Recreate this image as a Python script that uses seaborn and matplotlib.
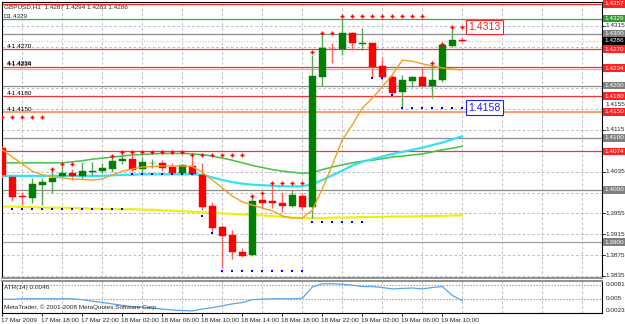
import numpy as np
import pandas as pd
import seaborn as sns
import matplotlib.pyplot as plt

nan = np.nan

# ---- data (GBPUSD, H1, bar 0 = 17 Mar 14:00) ----
bars = list(range(47))
opens = [1.4080, 1.4025, 1.3988, 1.3984, 1.4009, 1.4015, 1.4027, 1.4032, 1.4027, 1.4034,
         1.4036, 1.4040, 1.4055, 1.4059, 1.4040, 1.4051, 1.4052, 1.4044, 1.4032, 1.4046,
         1.4029, 1.3969, 1.3929, 1.3913, 1.3881, 1.3875, 1.3981, 1.3979, 1.3975, 1.3969,
         1.3988, 1.3967, 1.4217, 1.4271, 1.4270, 1.4301, 1.4281, 1.4282, 1.4238, 1.4217,
         1.4188, 1.4209, 1.4217, 1.4199, 1.4211, 1.4276, 1.4287]
highs = [1.4084, 1.4027, 1.3996, 1.4023, 1.4023, 1.4040, 1.4046, 1.4040, 1.4054, 1.4054,
         1.4052, 1.4067, 1.4071, 1.4071, 1.4063, 1.4059, 1.4057, 1.4052, 1.4050, 1.4063,
         1.4052, 1.3977, 1.3933, 1.3923, 1.3888, 1.3990, 1.3990, 1.4013, 1.3996, 1.4000,
         1.3994, 1.4259, 1.4297, 1.4282, 1.4334, 1.4303, 1.4311, 1.4282, 1.4255, 1.4221,
         1.4221, 1.4219, 1.4234, 1.4242, 1.4282, 1.4313, 1.4294]
lows = [1.4023, 1.3979, 1.3971, 1.3975, 1.3971, 1.3994, 1.4023, 1.4019, 1.4021, 1.4029,
        1.4032, 1.4034, 1.4050, 1.4034, 1.4032, 1.4042, 1.4036, 1.4031, 1.4031, 1.4029,
        1.3961, 1.3917, 1.3850, 1.3867, 1.3871, 1.3873, 1.3965, 1.3965, 1.3958, 1.3967,
        1.3961, 1.3946, 1.4199, 1.4244, 1.4259, 1.4269, 1.4269, 1.4215, 1.4211, 1.4178,
        1.4159, 1.4198, 1.4199, 1.4176, 1.4207, 1.4274, 1.4283]
closes = [1.4029, 1.3986, 1.3986, 1.4011, 1.4015, 1.4023, 1.4032, 1.4027, 1.4036, 1.4036,
          1.4042, 1.4055, 1.4059, 1.4038, 1.4054, 1.4052, 1.4042, 1.4032, 1.4048, 1.4031,
          1.3967, 1.3927, 1.3912, 1.3881, 1.3873, 1.3979, 1.3975, 1.3975, 1.3969, 1.3990,
          1.3967, 1.4219, 1.4272, 1.4270, 1.4301, 1.4282, 1.4282, 1.4236, 1.4217, 1.4186,
          1.4211, 1.4217, 1.4199, 1.4211, 1.4278, 1.4287, 1.4286]

ma_orange = [1.4077, 1.4063, 1.4050, 1.4036, 1.4029, 1.4025, 1.4023, 1.4021, 1.4020, 1.4019,
             1.4021, 1.4029, 1.4036, 1.4040, 1.4044, 1.4045, 1.4046, 1.4046, 1.4046, 1.4045,
             1.4034, 1.4019, 1.4004, 1.3988, 1.3977, 1.3971, 1.3965, 1.3960, 1.3950, 1.3946,
             1.3946, 1.3961, 1.4002, 1.4048, 1.4096, 1.4125, 1.4157, 1.4176, 1.4198, 1.4221,
             1.4249, 1.4247, 1.4242, 1.4238, 1.4234, 1.4232, 1.4230]
ma_green = [1.4052, 1.4052, 1.4052, 1.4052, 1.4052, 1.4052, 1.4052, 1.4054, 1.4056, 1.4059,
            1.4061, 1.4063, 1.4065, 1.4067, 1.4068, 1.4069, 1.4070, 1.4070, 1.4070, 1.4069,
            1.4068, 1.4065, 1.4061, 1.4057, 1.4052, 1.4047, 1.4043, 1.4039, 1.4036, 1.4034,
            1.4032, 1.4033, 1.4039, 1.4044, 1.4048, 1.4052, 1.4055, 1.4057, 1.4060, 1.4063,
            1.4065, 1.4067, 1.4069, 1.4073, 1.4077, 1.4080, 1.4084]
ma_cyan = [1.4027, 1.4027, 1.4027, 1.4027, 1.4027, 1.4027, 1.4027, 1.4027, 1.4027, 1.4027,
           1.4027, 1.4028, 1.4029, 1.4029, 1.4030, 1.4030, 1.4030, 1.4030, 1.4030, 1.4030,
           1.4029, 1.4024, 1.4019, 1.4015, 1.4012, 1.4010, 1.4009, 1.4008, 1.4007, 1.4007,
           1.4007, 1.4011, 1.4019, 1.4028, 1.4037, 1.4047, 1.4054, 1.4059, 1.4064, 1.4069,
           1.4073, 1.4077, 1.4081, 1.4086, 1.4091, 1.4097, 1.4103]
ma_yellow = [1.3968, 1.3968, 1.3967, 1.3967, 1.3966, 1.3966, 1.3966, 1.3965, 1.3965, 1.3964,
             1.3964, 1.3963, 1.3963, 1.3963, 1.3962, 1.3962, 1.3961, 1.3960, 1.3959, 1.3958,
             1.3957, 1.3956, 1.3955, 1.3954, 1.3953, 1.3952, 1.3951, 1.3950, 1.3948, 1.3947,
             1.3946, 1.3946, 1.3946, 1.3947, 1.3947, 1.3947, 1.3948, 1.3948, 1.3948, 1.3949,
             1.3949, 1.3949, 1.3950, 1.3950, 1.3950, 1.3951, 1.3951]

res_dots = [1.4139, 1.4139, 1.4139, 1.4139, 1.4139, 1.4040, 1.4049, 1.4049, nan, nan,
            nan, 1.4066, 1.4073, 1.4073, 1.4073, 1.4073, 1.4073, 1.4073, 1.4073, 1.4067,
            1.4067, 1.4067, 1.4067, 1.4067, 1.4067, 1.3989, 1.3995, 1.4013, 1.4013, 1.4013,
            1.4013, 1.4264, 1.4301, 1.4301, 1.4334, 1.4334, 1.4334, 1.4334, 1.4334, 1.4334,
            1.4334, 1.4334, 1.4334, 1.4243, 1.4281, 1.4313, 1.4313]
sup_dots = [1.4016, 1.3964, 1.3964, 1.3964, 1.3964, 1.3964, 1.3964, 1.3964, 1.3964, 1.3964,
            1.3964, 1.3964, 1.3964, 1.4031, 1.4031, 1.4031, 1.4031, 1.4031, 1.4031, 1.4031,
            1.3949, 1.3918, 1.3845, 1.3845, 1.3845, 1.3845, 1.3845, 1.3845, 1.3845, 1.3845,
            1.3845, 1.3938, 1.3938, 1.3938, 1.3938, 1.3938, 1.3938, 1.4214, 1.4214, 1.4182,
            1.4158, 1.4158, 1.4158, 1.4158, 1.4158, 1.4158, 1.4158]

atr = [0.0049, 0.0049, 0.0050, 0.0050, 0.0050, 0.0050, 0.0050, 0.0050, 0.0048, 0.0045,
       0.0042, 0.0039, 0.0036, 0.0033, 0.0032, 0.0030, 0.0028, 0.0026, 0.0025, 0.0024,
       0.0028, 0.0031, 0.0035, 0.0039, 0.0042, 0.0048, 0.0049, 0.0050, 0.0050, 0.0050,
       0.0051, 0.0075, 0.0082, 0.0082, 0.0081, 0.0079, 0.0076, 0.0076, 0.0074, 0.0071,
       0.0072, 0.0073, 0.0071, 0.0074, 0.0076, 0.0057, 0.0046]

time_labels = ["17 Mar 2009", "17 Mar 18:00", "17 Mar 22:00", "18 Mar 02:00",
               "18 Mar 06:00", "18 Mar 10:00", "18 Mar 14:00", "18 Mar 18:00",
               "18 Mar 22:00", "19 Mar 02:00", "19 Mar 06:00", "19 Mar 10:00"]
time_label_bars = [0, 4, 8, 12, 16, 20, 24, 28, 32, 36, 40, 44]
grid_bars = [2, 6, 10, 14, 18, 22, 26, 30, 34, 38, 42, 46, 50, 54, 58]
price_ticks = [1.4315, 1.4275, 1.4235, 1.4195, 1.4155, 1.4115, 1.4075,
               1.4035, 1.3995, 1.3955, 1.3915, 1.3875, 1.3835]
shown_ticks = [1.4315, 1.4155, 1.4115, 1.4035, 1.3955, 1.3915, 1.3875, 1.3835]

level_prices = [1.4357, 1.4329, 1.4300, 1.4270, 1.4236, 1.4233, 1.4200, 1.4180,
                1.4150, 1.4100, 1.4074, 1.4000, 1.3900]
level_colors = ['#ff2020', '#3cae3c', '#8c8c8c', '#ff3030', '#ff3030', '#ffa0a0', '#8c8c8c',
                '#ff3030', '#ff9f70', '#8c8c8c', '#ff3030', '#8c8c8c', '#a0a0a0']
box_prices = [1.4357, 1.4329, 1.4300, 1.4286, 1.4270, 1.4234, 1.4200, 1.4180,
              1.4150, 1.4100, 1.4074, 1.4000, 1.3900]
box_colors = ['#ff2020', '#2e9a2e', '#808080', '#000000', '#ff2020', '#ff2020', '#808080',
              '#ff2020', '#ff2020', '#808080', '#ff2020', '#808080', '#808080']
left_tags = ["4-1.4270", "4-1.4236", "4-1.4234", "4-1.4180", "4-1.4150"]
left_tag_prices = [1.4270, 1.4238, 1.4236, 1.4180, 1.4150]

atr_levels = [0.0080, 0.0050, 0.0020]
atr_tick_text = ["0.0081", "0.005", "0.0023"]
atr_tick_vals = [0.0081, 0.0050, 0.0024]

# ---- figure ----
sns.set_style("white")
plt.rcParams['font.family'] = ['Liberation Sans', 'DejaVu Sans']
FS = 4.6
W, H = 625, 324
fig = plt.figure(figsize=(W / 100, H / 100), dpi=100)


def px_axes(x0, y0, x1, y1):
    return fig.add_axes([x0 / W, 1 - y1 / H, (x1 - x0) / W, (y1 - y0) / H])


def fig_text(x, y, s, **kw):
    fig.text(x / W, 1 - y / H, s, **kw)


ax = px_axes(2, 2, 602, 278)
atr_ax = px_axes(2, 281, 602, 313)

for a in (ax, atr_ax):
    a.set_xlim(-0.03, 59.97)
    a.set_xticks([])
    a.set_yticks([])
    for sp in a.spines.values():
        sp.set_color('black')
        sp.set_linewidth(0.8)
    for b in grid_bars:
        a.axvline(b, color='#b8b8c4', ls=(0, (2.5, 2.5)), lw=0.7, zorder=0.5)
ax.spines['bottom'].set_color('#909090')
ax.spines['bottom'].set_linewidth(1.4)
atr_ax.spines['top'].set_color('#909090')
atr_ax.spines['top'].set_linewidth(1.4)
ax.set_ylim(1.38309, 1.43607)
atr_ax.set_ylim(0.00196, 0.00879)

for p in price_ticks:
    ax.axhline(p, color='#b8b8c4', ls=(0, (2.5, 2.5)), lw=0.7, zorder=0.5)

# horizontal levels
for p, c in zip(level_prices, level_colors):
    ax.axhline(p, color=c, lw=1.5 if c == '#ff9f70' else 0.9, zorder=1)
ax.axhline(1.4286, color='#c0c0c8', ls=(0, (1, 1.5)), lw=0.8, zorder=1)

for s, p in zip(left_tags, left_tag_prices):
    ax.text(0.5, p, s, fontsize=FS, color='black', ha='left', va='bottom', zorder=6)

# moving averages
sns.lineplot(x=bars, y=ma_yellow, ax=ax, color='#f0f000', lw=1.5, zorder=2)
sns.lineplot(x=bars, y=ma_green, ax=ax, color='#44c044', lw=1.1, zorder=2)
sns.lineplot(x=bars, y=ma_cyan, ax=ax, color='#30e4f4', lw=1.6, zorder=2)

# candles
df = pd.DataFrame({'bar': bars, 'open': opens, 'high': highs, 'low': lows, 'close': closes})
df['up'] = df['close'] >= df['open']
df['body'] = (df['close'] - df['open']).abs().clip(lower=0.00012)
df['base'] = df[['open', 'close']].min(axis=1)
for is_up, body_c, wick_c in [(True, '#008000', '#55a855'), (False, '#ff0000', '#ff6060')]:
    d = df[df['up'] == is_up]
    ax.vlines(d['bar'], d['low'], d['high'], colors=wick_c, lw=1.0, zorder=3)
    ax.bar(d['bar'], d['body'], bottom=d['base'], width=0.7, color=body_c,
           edgecolor=body_c, lw=0.3, zorder=4)

sns.lineplot(x=bars, y=ma_orange, ax=ax, color='#f5a020', lw=1.0, zorder=5)

# fractal support / resistance dots
sns.scatterplot(x=bars, y=res_dots, ax=ax, marker='+', color='#ff0000', s=8,
                linewidth=1.0, zorder=6)
sns.scatterplot(x=bars, y=sup_dots, ax=ax, marker='s', color='#0000ff', s=3,
                linewidth=0, zorder=6)

ax.text(46.6, 1.4313, "1.4313", fontsize=7.6, color='#ff2020', ha='left', va='center', zorder=7,
        bbox=dict(boxstyle='square,pad=0.2', fc='white', ec='#ff2020', lw=0.8))
ax.text(46.6, 1.4158, "1.4158", fontsize=7.6, color='#2020ff', ha='left', va='center', zorder=7,
        bbox=dict(boxstyle='square,pad=0.2', fc='white', ec='#2020ff', lw=0.8))

# right price scale
ytr = ax.get_yaxis_transform()
for p in price_ticks:
    ax.plot([1.0, 1.005], [p, p], color='black', lw=0.6, transform=ytr, clip_on=False)
for p in shown_ticks:
    # the 1.4155 label peeks out just above the 1.4150 level box
    ty = p + 0.0008 if p == 1.4155 else p
    ax.text(1.006, ty, f"{p:.4f}", transform=ytr, fontsize=FS, ha='left', va='center',
            clip_on=False, zorder=8)
for p, c in zip(box_prices, box_colors):
    ax.text(1.004, p, f"{p:.4f}", transform=ytr, fontsize=FS, color='white', ha='left',
            va='center', clip_on=False, zorder=9,
            bbox=dict(boxstyle='square,pad=0.2', fc=c, ec='none'))

# header
fig_text(4, 7, "GBPUSD,H1  1.4287 1.4294 1.4283 1.4286", fontsize=FS, va='center')
fig_text(4, 16, "D1.4329", fontsize=FS, va='center')

# ATR panel
sns.lineplot(x=bars, y=atr, ax=atr_ax, color='#5aa5ec', lw=0.9)
for v in atr_levels:
    atr_ax.axhline(v, color='#ff7050', ls=(0, (1.2, 1.5)), lw=0.8, zorder=1)
atr_ytr = atr_ax.get_yaxis_transform()
for s, v in zip(atr_tick_text, atr_tick_vals):
    atr_ax.text(1.006, v, s, transform=atr_ytr, fontsize=FS, ha='left', va='center',
                clip_on=False)
fig_text(4, 287, "ATR(14) 0.0046", fontsize=FS, va='center')
fig_text(4, 307, "MetaTrader, \u00a9 2001-2008 MetaQuotes Software Corp.", fontsize=FS, va='center')

# time axis
xtr = atr_ax.get_xaxis_transform()
for b, s in zip(time_label_bars, time_labels):
    atr_ax.plot([b, b], [0, -0.08], color='black', lw=0.6, transform=xtr, clip_on=False)
    atr_ax.text(b - 0.1, -0.15, s, transform=xtr, fontsize=FS, ha='left', va='top',
                clip_on=False)

fig.savefig("out.png", dpi=100, facecolor='white')
